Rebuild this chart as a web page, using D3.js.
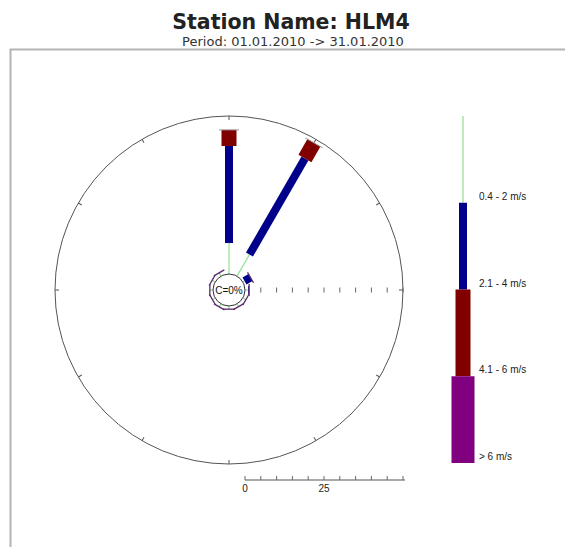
<!DOCTYPE html>
<html>
<head>
<meta charset="utf-8">
<script src="https://cdn.jsdelivr.net/npm/d3@7"></script>
<style>
  html, body { margin: 0; padding: 0; background: #fff; }
  svg { display: block; }
</style>
</head>
<body>
<svg id="chart" width="565" height="547"></svg>
<script>
// Wind directions (degrees from north), one sector every 30 degrees
const directions = [0, 30, 60, 90, 120, 150, 180, 210, 240, 270, 300, 330];
// Frequency (%) per direction for each speed class
const speed04to2 = [9.8, 7.9, 0.6, 1.0, 1.1, 1.0, 1.0, 1.1, 1.0, 1.0, 1.1, 1.2];
const speed21to4 = [30.7, 35.1, 2.2, 0.3, 0, 0, 0, 0, 0, 0, 0, 0];
const speed41to6 = [5.1, 5.7, 0, 0, 0, 0, 0, 0, 0, 0, 0, 0];
const speedAbove6 = [0, 0, 0, 0, 0, 0, 0, 0, 0, 0, 0, 0];
const speedClasses = ["0.4 - 2 m/s", "2.1 - 4 m/s", "4.1 - 6 m/s", "> 6 m/s"];
const calmPercent = 0;
const scaleTicks = [0, 5, 10, 15, 20, 25, 30, 35, 40, 45, 50];
const scaleLabels = [0, 25];

const classColors = ["#90e090", "#00008b", "#800000", "#800080"];
const classWidths = [1.2, 8, 15, 23];

const svg = d3.select("#chart");
const cx = 229, cy = 290;
const calmR = 16;

// radial scale: percent -> pixel distance from centre
const r = d3.scaleLinear().domain([0, 50]).range([calmR, 174]);

// Frame
svg.append("rect")
  .attr("x", 10.5).attr("y", 49.5)
  .attr("width", 700).attr("height", 700)
  .attr("fill", "none").attr("stroke", "#b4b4b4").attr("stroke-width", 2);

// Titles
svg.append("text")
  .attr("x", 291).attr("y", 29)
  .attr("text-anchor", "middle")
  .attr("font-family", "DejaVu Sans, Verdana, sans-serif")
  .attr("font-weight", "bold")
  .attr("font-size", 20.5)
  .attr("fill", "#222")
  .text("Station Name: HLM4");
svg.append("text")
  .attr("x", 293).attr("y", 46)
  .attr("text-anchor", "middle")
  .attr("font-family", "DejaVu Sans, Verdana, sans-serif")
  .attr("font-size", 13)
  .attr("fill", "#333")
  .text("Period: 01.01.2010 -> 31.01.2010");

const rose = svg.append("g").attr("transform", `translate(${cx},${cy})`);

// Outer circle (50 %)
rose.append("circle")
  .attr("r", r(50))
  .attr("fill", "none").attr("stroke", "#555").attr("stroke-width", 1);

// Direction ticks on the outer circle
rose.selectAll("line.dirtick")
  .data(directions)
  .join("line")
  .attr("class", "dirtick")
  .attr("transform", d => `rotate(${d})`)
  .attr("x1", 0).attr("x2", 0)
  .attr("y1", -r(50)).attr("y2", -r(50) + 4)
  .attr("stroke", "#555").attr("stroke-width", 1);

// Percent ticks along the east radius
rose.selectAll("line.radtick")
  .data(scaleTicks.slice(1))
  .join("line")
  .attr("class", "radtick")
  .attr("x1", d => r(d)).attr("x2", d => r(d))
  .attr("y1", -2.5).attr("y2", 2.5)
  .attr("stroke", "#666").attr("stroke-width", 1);

// Stacked bars per direction
const series = [speed04to2, speed21to4, speed41to6, speedAbove6];
directions.forEach((dir, i) => {
  const g = rose.append("g").attr("transform", `rotate(${dir})`);
  let start = 0;
  let lastWidth = classWidths[0];
  series.forEach((s, k) => {
    const v = s[i];
    if (v <= 0) return;
    const end = start + v;
    if (k === 0) {
      g.append("line")
        .attr("x1", 0).attr("x2", 0)
        .attr("y1", -r(start)).attr("y2", -r(end))
        .attr("stroke", classColors[k]).attr("stroke-width", classWidths[k]);
    } else {
      g.append("rect")
        .attr("x", -classWidths[k] / 2)
        .attr("y", -r(end))
        .attr("width", classWidths[k])
        .attr("height", r(end) - r(start))
        .attr("fill", classColors[k]);
    }
    lastWidth = classWidths[k];
    start = end;
  });
  // end cap
  const small = start < 5;
  const capW = small ? 12 : lastWidth + 5;
  g.append("line")
    .attr("x1", -capW / 2).attr("x2", capW / 2)
    .attr("y1", -r(start)).attr("y2", -r(start))
    .attr("stroke", small ? "#5a2a6a" : "#999")
    .attr("stroke-width", small ? 1.3 : 1);
});

// Calm circle
rose.append("circle")
  .attr("r", calmR)
  .attr("fill", "#fff").attr("stroke", "#333").attr("stroke-width", 1);
rose.append("text")
  .attr("x", 0).attr("y", 4)
  .attr("text-anchor", "middle")
  .attr("font-family", "Liberation Sans, Arial, sans-serif")
  .attr("font-size", 10)
  .attr("fill", "#111")
  .text(`C=${calmPercent}%`);

// Percent scale below the rose
const axisY = 480;
const sx = d3.scaleLinear().domain([0, 50]).range([cx + r(0), cx + r(50)]);
svg.append("line")
  .attr("x1", sx(0)).attr("x2", sx(50) + 2)
  .attr("y1", axisY).attr("y2", axisY)
  .attr("stroke", "#555").attr("stroke-width", 1);
svg.selectAll("line.scaletick")
  .data(scaleTicks)
  .join("line")
  .attr("class", "scaletick")
  .attr("x1", d => sx(d)).attr("x2", d => sx(d))
  .attr("y1", axisY - 4).attr("y2", axisY)
  .attr("stroke", "#666").attr("stroke-width", 1);
svg.selectAll("text.scalelabel")
  .data(scaleLabels)
  .join("text")
  .attr("class", "scalelabel")
  .attr("x", d => sx(d)).attr("y", axisY + 12)
  .attr("text-anchor", "middle")
  .attr("font-family", "Liberation Sans, Arial, sans-serif")
  .attr("font-size", 10)
  .attr("fill", "#222")
  .text(d => d);

// Legend: one stacked column, one segment per speed class
const ly = d3.scaleBand().domain(speedClasses).range([116, 463]).paddingInner(0);
const lx = 463;
svg.selectAll("rect.legend")
  .data(speedClasses)
  .join("rect")
  .attr("class", "legend")
  .attr("x", (d, i) => lx - classWidths[i] / 2)
  .attr("y", d => ly(d))
  .attr("width", (d, i) => classWidths[i])
  .attr("height", ly.bandwidth())
  .attr("fill", (d, i) => classColors[i]);
svg.selectAll("text.legend")
  .data(speedClasses)
  .join("text")
  .attr("class", "legend")
  .attr("x", 479)
  .attr("y", d => ly(d) + ly.bandwidth() - 3)
  .attr("font-family", "Liberation Sans, Arial, sans-serif")
  .attr("font-size", 10)
  .attr("fill", "#222")
  .text(d => d);
</script>
</body>
</html>
